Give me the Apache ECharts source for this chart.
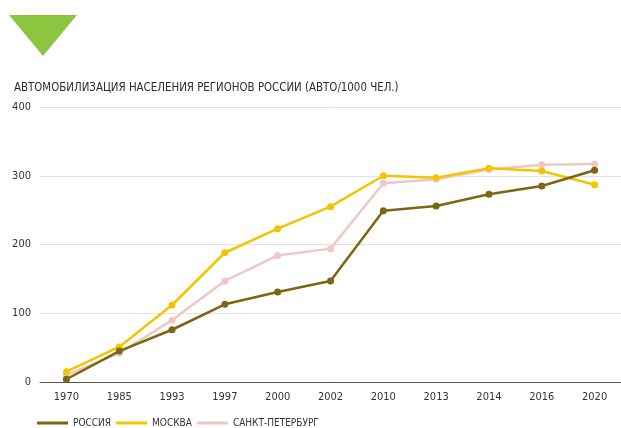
<!DOCTYPE html>
<html>
<head>
<meta charset="utf-8">
<script src="https://cdn.jsdelivr.net/npm/echarts@6/dist/echarts.min.js"></script>
<style>
  html, body { margin: 0; padding: 0; background: #fff; }
  #autoChart { width: 621px; height: 428px; }
</style>
</head>
<body>
<div id="autoChart"></div>
<script>
// годы
var years = ["1970", "1985", "1993", "1997", "2000", "2002", "2010", "2013", "2014", "2016", "2020"];
// авто на 1000 чел.
var russia = [4, 45, 76, 113, 131, 147, 249, 256, 273, 285, 308];
var moscow = [15, 51, 112, 188, 223, 255, 300, 297, 311, 307, 287];
var spb = [10, 42, 90, 147, 184, 194, 289, 295, 309, 316, 317];
var yTicks = [0, 100, 200, 300, 400];

var fontName = "'DejaVu Sans Condensed', 'Liberation Sans Narrow', sans-serif";

var myChart = echarts.init(document.getElementById("autoChart"));

function lineSeries(name, data, color, z) {
  return {
    name: name,
    type: "line",
    data: data,
    z: z,
    symbol: "circle",
    symbolSize: 7,
    showAllSymbol: true,
    lineStyle: { color: color, width: 2.5 },
    itemStyle: { color: color }
  };
}

var option = {
  backgroundColor: "#fff",
  animation: false,
  title: {
    text: "АВТОМОБИЛИЗАЦИЯ НАСЕЛЕНИЯ РЕГИОНОВ РОССИИ (АВТО/1000 ЧЕЛ.)",
    left: 9,
    top: 78,
    textStyle: { fontFamily: fontName, fontSize: 11.4, fontWeight: "normal", color: "#2b2b2b" }
  },
  graphic: [
    {
      type: "polygon",
      shape: { points: [[9, 15], [77, 15], [43, 56]] },
      style: { fill: "#8cc540" }
    }
  ],
  legend: {
    left: 37,
    top: 418,
    padding: 0,
    itemWidth: 31,
    itemHeight: 3,
    itemGap: 5,
    icon: "rect",
    textStyle: { fontFamily: fontName, fontSize: 10, color: "#333" },
    data: ["РОССИЯ", "МОСКВА", "САНКТ-ПЕТЕРБУРГ"]
  },
  grid: { left: 40, right: 0, top: 107, bottom: 46, containLabel: false },
  xAxis: {
    type: "category",
    data: years,
    boundaryGap: true,
    axisLine: { lineStyle: { color: "#555", width: 1 } },
    axisTick: { show: false },
    axisLabel: { interval: 0, margin: 10, color: "#333", fontFamily: fontName, fontSize: 11 }
  },
  yAxis: {
    type: "value",
    min: yTicks[0],
    max: yTicks[yTicks.length - 1],
    interval: 100,
    axisLine: { show: false },
    axisTick: { show: false },
    splitLine: { lineStyle: { color: "#e2e2e2", width: 1 } },
    axisLabel: { margin: 9, color: "#333", fontFamily: fontName, fontSize: 11 }
  },
  series: [
    lineSeries("САНКТ-ПЕТЕРБУРГ", spb, "#edc9c5", 2),
    lineSeries("МОСКВА", moscow, "#f2c500", 3),
    lineSeries("РОССИЯ", russia, "#7d6512", 4)
  ]
};
myChart.setOption(option);
</script>
</body>
</html>
